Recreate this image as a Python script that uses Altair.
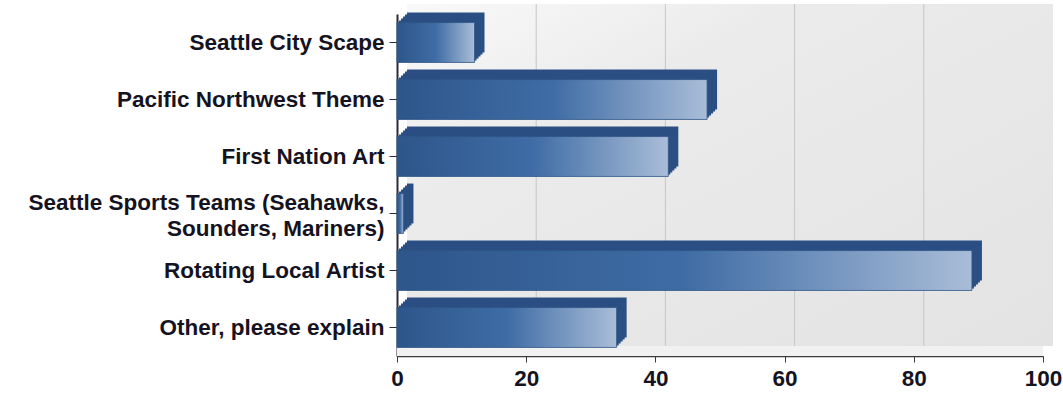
import altair as alt
import pandas as pd

categories = [
    "Seattle City Scape",
    "Pacific Northwest Theme",
    "First Nation Art",
    "Seattle Sports Teams (Seahawks,|Sounders, Mariners)",
    "Rotating Local Artist",
    "Other, please explain",
]
values = [12, 48, 42, 1, 89, 34]
x_ticks = [0, 20, 40, 60, 80, 100]
grid_values = [20, 40, 60, 80]

W, H = 646, 342
DEPTH = 10
FONT = "Liberation Sans"
TXT = "#15131f"
FS = 22.5

bars = pd.DataFrame({"category": categories, "value": values})
grid = pd.DataFrame({"g": grid_values})
one = pd.DataFrame({"a": [0]})

xscale = alt.Scale(domain=[0, 100], nice=False, zero=True)
yscale = alt.Scale(domain=categories, paddingInner=0.3, paddingOuter=0.15)

wall = alt.Chart(one).mark_rect(
    fill=alt.LinearGradient(
        gradient="linear",
        stops=[alt.GradientStop(color="#f9f9f9", offset=0),
               alt.GradientStop(color="#ebebeb", offset=0.3),
               alt.GradientStop(color="#e3e3e3", offset=1)],
        x1=0, y1=0, x2=1, y2=1,
    )
).encode(x=alt.value(DEPTH), x2=alt.value(W + DEPTH), y=alt.value(-DEPTH), y2=alt.value(H - DEPTH))

floor = alt.Chart(one).mark_rect(fill="#f1f1f1").encode(
    x=alt.value(0), x2=alt.value(W), y=alt.value(H - DEPTH), y2=alt.value(H)
)

gridlines = alt.Chart(grid).mark_rule(color="#c6c6c6", strokeWidth=1, xOffset=DEPTH).encode(
    x=alt.X("g:Q", scale=xscale),
    y=alt.value(-DEPTH),
    y2=alt.value(H - DEPTH),
)

def back_layer(d, color):
    return alt.Chart(bars).mark_bar(
        color=color, xOffset=d, x2Offset=d, yOffset=-d
    ).encode(
        x=alt.X("value:Q", scale=xscale),
        y=alt.Y("category:N", scale=yscale, sort=categories),
    )

backs = [back_layer(d, "#2b4f83") for d in (10, 8, 6, 4, 2)]

front = alt.Chart(bars).mark_bar(
    color=alt.LinearGradient(
        gradient="linear",
        stops=[alt.GradientStop(color="#2d568b", offset=0),
               alt.GradientStop(color="#3f6ca5", offset=0.5),
               alt.GradientStop(color="#a9bdd8", offset=1)],
        x1=0, y1=0, x2=1, y2=0,
    ),
    stroke="#2f5587", strokeWidth=0.8,
).encode(
    x=alt.X("value:Q", scale=xscale,
            axis=alt.Axis(values=x_ticks, title=None, grid=False, labelFont=FONT,
                          labelFontSize=FS, labelFontWeight="bold", labelColor=TXT,
                          domainColor="#3a3a3a", domainWidth=1.5, tickColor="#3a3a3a",
                          tickSize=6, labelPadding=5, labelFlush=False)),
    y=alt.Y("category:N", scale=yscale, sort=categories,
            axis=alt.Axis(title=None, labelExpr="split(datum.label, '|')", labelFont=FONT,
                          labelFontSize=FS, labelFontWeight="bold", labelColor=TXT,
                          labelLineHeight=26,
                          labelOffset={"condition": {"test": "indexof(datum.label, '|') >= 0", "value": -11}, "value": 0},
                          domainColor="#2a2a3a", domainWidth=2,
                          tickColor="#2a2a3a", tickSize=8, labelPadding=5, labelLimit=0)),
)

chart = alt.layer(wall, floor, gridlines, *backs, front).properties(
    width=W, height=H,
    autosize=alt.AutoSizeParams(type="none"),
    padding={"left": 397, "top": 14, "right": 20, "bottom": 38},
    background="white",
).configure_view(stroke=None)

chart.save("out.html", embed_options={"renderer": "svg", "actions": False})
